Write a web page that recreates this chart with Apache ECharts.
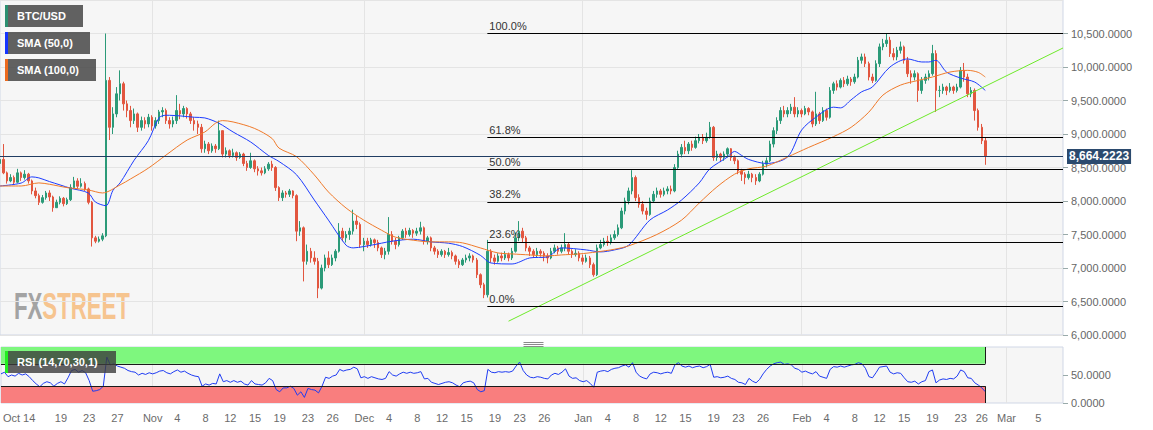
<!DOCTYPE html>
<html><head><meta charset="utf-8">
<script src="https://cdn.jsdelivr.net/npm/echarts@6/dist/echarts.min.js"></script>
<style>html,body{margin:0;padding:0;background:#fff}#c{width:1153px;height:430px}</style>
</head><body><div id="c"></div>
<script>
// ---------- DATA (12h slots starting 2019-10-10 12:00 UTC) ----------
const START_MS = Date.UTC(2019, 9, 10, 12);
const STEP_MS = 12 * 3600 * 1000;
const SLOTS = 302;

const firstOpen = 8560;
const closes = [8620,8420,8300,8350,8280,8420,8350,8400,8300,8150,8080,7980,8050,8120,8060,7900,7980,8040,7960,8020,
8200,8300,8220,8260,8180,7980,7450,7400,7430,7480,9800,9100,9300,9600,9750,9450,9350,9200,9300,9100,
9200,9150,9250,9120,9200,9330,9350,9200,9150,9200,9350,9300,9380,9300,9200,9150,9100,8780,8850,8750,
8820,8780,9050,8700,8750,8680,8720,8650,8700,8560,8500,8600,8480,8450,8420,8480,8550,8500,8200,8050,
8120,8100,8150,8080,7550,7600,7100,7250,7150,7100,6700,7000,7150,7050,7150,7250,7550,7450,7500,7550,
7700,7650,7350,7400,7350,7420,7380,7300,7200,7250,7500,7400,7350,7450,7550,7500,7560,7520,7550,7600,
7400,7450,7300,7250,7200,7250,7200,7230,7180,7100,7050,7120,7150,7180,7120,6900,6750,6600,7250,7150,
7100,7180,7150,7200,7150,7250,7450,7550,7450,7300,7250,7200,7250,7220,7180,7150,7250,7300,7250,7300,
7350,7250,7200,7220,7150,7100,7150,7050,6900,7300,7350,7400,7380,7450,7500,7600,7850,8000,8150,8350,
8050,7950,7850,7800,8000,8100,8150,8100,8150,8180,8150,8500,8700,8800,8750,8850,8800,8900,8950,8900,
8950,9100,8650,8700,8650,8700,8780,8650,8600,8450,8400,8350,8400,8350,8300,8400,8550,8600,8850,9050,
9200,9350,9300,9350,9400,9300,9350,9300,9380,9330,9150,9300,9200,9350,9250,9650,9750,9700,9800,9750,
9820,9780,9850,10100,10150,10050,9850,9800,10050,10300,10350,10400,10200,10150,10250,10300,10100,9900,9850,9900,
9650,9800,9850,9900,10200,9650,9650,9700,9650,9700,9650,9700,9950,9850,9600,9650,9350,9100,8900,8664.2223];
const lows = [8530,8400,8260,8280,8240,8270,8300,8320,8260,8100,8040,7940,7960,8020,8000,7840,7900,7950,7920,7940,
8000,8180,8180,8200,8150,7950,7320,7370,7380,7400,7460,8910,9000,9250,9500,9350,9250,9100,9150,9030,
9050,9080,9100,9050,9080,9150,9250,9150,9080,9100,9150,9220,9250,9230,9150,9050,9000,8720,8720,8700,
8720,8720,8760,8650,8650,8640,8650,8600,8630,8520,8450,8480,8430,8380,8380,8400,8450,8450,8150,8000,
8000,8050,8060,8040,7400,7480,6800,7050,7080,7050,6550,6680,6950,7000,7030,7100,7230,7400,7380,7420,
7500,7580,7300,7250,7300,7320,7300,7250,7150,7130,7200,7350,7280,7320,7420,7450,7470,7450,7480,7500,
7350,7350,7250,7200,7150,7170,7150,7170,7130,7050,7000,7030,7080,7100,7080,6850,6700,6550,6560,7080,
7050,7080,7100,7120,7100,7120,7230,7400,7380,7250,7180,7150,7150,7170,7100,7070,7130,7220,7200,7220,
7250,7200,7150,7170,7100,7050,7080,7000,6870,6880,7280,7320,7330,7350,7420,7470,7580,7800,7950,8100,
8000,7900,7800,7720,7780,7980,8050,8050,8070,8100,8100,8130,8480,8650,8700,8700,8750,8780,8860,8850,
8870,8930,8600,8600,8580,8600,8650,8600,8550,8400,8300,8250,8320,8280,8240,8280,8380,8500,8580,8800,
9000,9150,9250,9250,9300,9250,9250,9250,9280,9280,9100,9120,9150,9180,9200,9230,9600,9650,9680,9700,
9720,9720,9750,9830,10050,10000,9800,9760,9780,10000,10250,10300,10150,10100,10100,10200,10050,9850,9750,9800,
9480,9600,9750,9800,9870,9330,9550,9600,9580,9620,9600,9620,9680,9780,9550,9550,9200,9050,8850,8540];
const highs = [8650,8850,8440,8400,8380,8480,8440,8460,8420,8320,8200,8110,8090,8150,8160,8080,8020,8070,8060,8050,
8250,8360,8340,8340,8290,8200,8000,7480,7470,7520,10500,9850,9400,9700,9950,9780,9500,9420,9380,9320,
9260,9250,9300,9280,9250,9360,9400,9380,9250,9260,9580,9450,9420,9400,9330,9250,9200,9150,8900,8880,
8860,8850,9200,9050,8800,8770,8780,8740,8730,8720,8600,8720,8620,8520,8500,8520,8580,8600,8520,8220,
8160,8150,8180,8160,8100,7700,7620,7350,7300,7250,7150,7050,7200,7250,7200,7280,7670,7600,7550,7600,
7870,7780,7680,7450,7450,7450,7440,7420,7320,7300,7760,7550,7450,7480,7580,7600,7600,7580,7600,7690,
7620,7480,7470,7330,7280,7280,7270,7300,7260,7200,7130,7150,7200,7220,7200,7150,6920,6780,7420,7280,
7200,7220,7230,7250,7230,7300,7530,7700,7600,7480,7330,7280,7300,7280,7250,7220,7300,7350,7330,7350,
7520,7380,7280,7280,7250,7200,7200,7180,7080,7350,7420,7450,7480,7500,7560,7650,7900,8050,8200,8460,
8380,8100,8000,7900,8050,8150,8200,8180,8200,8220,8230,8550,8750,8850,8900,8880,8900,8960,9000,9000,
9020,9180,9120,8750,8720,8740,8800,8790,8680,8620,8480,8430,8450,8420,8400,8430,8600,8650,8900,9100,
9250,9400,9420,9400,9450,9550,9400,9380,9420,9400,9350,9630,9330,9400,9380,9700,9780,9800,9830,9850,
9870,9850,9900,10150,10200,10200,10080,9900,10100,10350,10420,10500,10450,10280,10300,10380,10320,10150,9950,9950,
9920,9850,9900,9950,10330,10250,9720,9750,9720,9760,9720,9750,10000,10060,9900,9700,9680,9380,9150,8950];

// SMA readings: [slot index, value]
const sma50 = [[0,8224],[6,8268],[9,8360],[11,8345],[14,8290],[17,8240],[20,8190],[25,8120],[27,7985],[30,7930],
[32,8160],[34,8270],[38,8610],[42,8900],[45,9240],[47,9280],[51,9270],[55,9250],[58,9240],[62,9160],[66,9030],
[71,8880],[76,8680],[79,8590],[84,8390],[89,8015],[93,7715],[98,7340],[100,7300],[103,7320],[108,7370],[111,7400],
[117,7430],[122,7390],[127,7370],[131,7320],[136,7190],[139,7075],[145,7060],[150,7150],[155,7165],[159,7300],
[166,7270],[170,7240],[174,7270],[178,7340],[184,7715],[189,7865],[193,8015],[198,8270],[201,8480],[206,8657],
[208,8740],[210,8680],[212,8620],[217,8560],[223,8657],[227,9060],[231,9250],[236,9400],[238,9390],[241,9510],
[244,9630],[247,9700],[252,10000],[257,10120],[261,10075],[263,10075],[265,10100],[268,9925],[272,9835],[276,9775],[279,9650]];
const sma100 = [[0,8224],[6,8224],[11,8270],[14,8250],[19,8200],[25,8165],[29,8120],[34,8240],[37,8330],[42,8490],
[47,8685],[53,8910],[58,9030],[61,9160],[63,9200],[66,9180],[72,9085],[77,8935],[79,8790],[84,8660],[89,8390],
[93,8135],[98,7895],[103,7715],[108,7565],[112,7460],[117,7415],[122,7390],[127,7390],[131,7375],[136,7300],
[141,7225],[145,7210],[150,7195],[155,7180],[159,7195],[164,7210],[169,7240],[174,7280],[178,7330],[186,7500],
[193,7715],[198,7970],[203,8210],[208,8400],[212,8480],[217,8520],[223,8657],[229,8800],[236,8960],[241,9100],
[246,9325],[250,9580],[255,9730],[260,9800],[264,9850],[269,9925],[274,9950],[277,9920],[279,9850]];

const rsi = [52,55,47,50,48,53,50,52,47,40,34,29,35,38,36,30,35,38,34,45,
58,60,55,58,54,40,21,22,24,30,82,68,70,66,64,62,58,56,55,50,
53,51,54,52,54,57,58,54,52,56,59,55,57,53,50,48,47,30,34,32,
35,34,52,38,40,37,40,37,39,34,32,40,34,33,32,36,44,40,24,20,
27,27,30,26,14,20,10,26,24,23,18,30,46,44,48,50,60,57,59,60,
64,61,45,47,44,47,45,43,42,44,56,50,48,52,55,53,55,53,54,56,
43,44,37,35,33,35,37,38,36,32,29,36,38,39,36,24,20,22,60,55,
54,56,55,56,55,57,66,73,58,50,46,45,47,46,44,43,50,53,51,55,
61,48,44,45,40,38,40,35,28,55,57,58,56,60,62,63,66,68,64,72,
55,48,45,43,52,55,54,52,54,55,53,68,72,66,64,66,63,65,66,63,
65,69,46,47,45,46,48,44,42,37,36,33,44,39,36,42,52,60,66,70,
72,73,69,70,68,62,60,55,57,54,52,56,48,46,44,60,65,64,66,64,
66,68,69,72,70,62,47,45,54,64,65,66,55,52,54,53,45,38,37,39,
34,38,40,56,59,36,41,43,42,44,43,48,59,56,45,44,36,32,27,20];

const lastPrice = 8664.2223;
const fibLevels = [10500, 8955, 8467, 7988, 7391, 6432];
const fibTexts = ['100.0%', '61.8%', '50.0%', '38.2%', '23.6%', '0.0%'];
const fibStart = '2019-12-18 12:00';
const trendPoints = [['2019-12-21 12:00', 6206], ['2020-03-09 00:00', 10284]];
const rsiBandEnd = '2020-02-27 00:00';
const monthStarts = ['2019-11-01 00:00','2019-12-01 00:00','2020-01-01 00:00','2020-02-01 00:00','2020-03-01 00:00'];
const tickLabels = [['2019-10-12 00:00','Oct'],['2019-10-14 12:00','14'],['2019-10-19 00:00','19'],['2019-10-23 00:00','23'],
['2019-10-27 00:00','27'],['2019-11-01 00:00','Nov'],['2019-11-04 12:00','4'],['2019-11-08 12:00','8'],['2019-11-12 00:00','12'],
['2019-11-15 12:00','15'],['2019-11-19 00:00','19'],['2019-11-23 00:00','23'],['2019-11-26 12:00','26'],['2019-12-01 00:00','Dec'],
['2019-12-04 12:00','4'],['2019-12-08 12:00','8'],['2019-12-12 00:00','12'],['2019-12-15 12:00','15'],['2019-12-19 12:00','19'],
['2019-12-23 00:00','23'],['2019-12-26 12:00','26'],['2020-01-01 00:00','Jan'],['2020-01-04 12:00','4'],['2020-01-08 12:00','8'],
['2020-01-12 00:00','12'],['2020-01-15 12:00','15'],['2020-01-19 12:00','19'],['2020-01-23 00:00','23'],['2020-01-26 12:00','26'],
['2020-02-01 00:00','Feb'],['2020-02-04 12:00','4'],['2020-02-08 12:00','8'],['2020-02-12 00:00','12'],['2020-02-15 12:00','15'],
['2020-02-19 12:00','19'],['2020-02-23 12:00','23'],['2020-02-26 12:00','26'],['2020-03-01 00:00','Mar'],['2020-03-05 12:00','5']];

// ---------- BUILD ----------
function fmtTime(ms) {
  const d = new Date(ms), p = n => String(n).padStart(2, '0');
  return d.getUTCFullYear() + '-' + p(d.getUTCMonth() + 1) + '-' + p(d.getUTCDate()) + ' ' + p(d.getUTCHours()) + ':' + p(d.getUTCMinutes());
}
const cats = [];
for (let k = 0; k < SLOTS; k++) cats.push(fmtTime(START_MS + k * STEP_MS));
const candles = closes.map((c, i) => {
  const o = i === 0 ? firstOpen : closes[i - 1];
  return [o, c, Math.min(lows[i], o, c), Math.max(highs[i], o, c)];
});
const labelMap = new Map(tickLabels);
const monthSet = new Set(monthStarts);
const num4 = v => v.toLocaleString('en-US', {minimumFractionDigits: 4, maximumFractionDigits: 4});

const FONT = '"Liberation Sans", Arial, sans-serif';
const gridLine = {color: '#e4e4e4', width: 1};
const xBase = {
  type: 'category', data: cats, boundaryGap: false,
  axisLine: {show: false}, axisTick: {show: false},
  splitLine: {show: true, interval: (i, v) => monthSet.has(v), lineStyle: gridLine}
};

const fibMarks = fibLevels.map((lv, j) => [
  {coord: [fibStart, lv], label: {show: true, formatter: fibTexts[j], position: 'insideStartTop', distance: [2, 2], color: '#333', fontSize: 11}},
  {coord: [cats[SLOTS - 1], lv]}
]);

function badge(top, width, text, marker) {
  return {type: 'group', left: 5, top: top, children: [
    {type: 'rect', z: 100, shape: {x: 0, y: 0, width: width, height: 22}, style: {fill: 'rgba(60,60,60,0.8)'}},
    {type: 'rect', z: 101, shape: {x: 0, y: 0, width: 3, height: 22}, style: {fill: marker}},
    {type: 'text', z: 102, x: 12, y: 11, style: {text: text, fill: '#fff', font: 'bold 11px ' + FONT, verticalAlign: 'middle'}}]};
}

const option = {
  animation: false,
  textStyle: {fontFamily: FONT},
  grid: [
    {left: 0, top: 0, width: 1063, height: 335, show: true, backgroundColor: '#f6f6f6', borderColor: '#d0d7e6', borderWidth: 1},
    {left: 0, top: 347, width: 1063, height: 56, show: true, backgroundColor: '#f6f6f6', borderColor: '#d0d7e6', borderWidth: 1}
  ],
  xAxis: [
    Object.assign({gridIndex: 0, axisLabel: {show: false}}, xBase),
    Object.assign({gridIndex: 1, axisLabel: {show: true, interval: (i, v) => labelMap.has(v), formatter: v => labelMap.get(v) || '', color: '#6b6b6b', fontSize: 11, margin: 9, fontFamily: FONT}}, xBase)
  ],
  yAxis: [
    {gridIndex: 0, type: 'value', position: 'right', min: 6000, max: 11000, interval: 500,
     axisLine: {show: false}, axisTick: {show: true, length: 5, lineStyle: {color: '#9aa'}},
     axisLabel: {showMaxLabel: false, formatter: num4, color: '#666', fontSize: 11, margin: 8, fontFamily: FONT},
     splitLine: {lineStyle: gridLine}},
    {gridIndex: 1, type: 'value', position: 'right', min: 0, max: 100, interval: 50,
     axisLine: {show: false}, axisTick: {show: true, length: 5, lineStyle: {color: '#9aa'}},
     axisLabel: {showMaxLabel: false, formatter: num4, color: '#666', fontSize: 11, margin: 8, fontFamily: FONT},
     splitLine: {show: false}}
  ],
  series: [
    {type: 'candlestick', name: 'BTC/USD', xAxisIndex: 0, yAxisIndex: 0, data: candles, barWidth: 2, z: 2,
     itemStyle: {color: '#2b9a78', color0: '#e2563f', borderColor: '#2b9a78', borderColor0: '#e2563f', borderWidth: 1}},
    {type: 'line', name: 'SMA (50,0)', xAxisIndex: 0, yAxisIndex: 0, data: sma50.map(([k, v]) => [cats[k], v]),
     showSymbol: false, smooth: 0.3, lineStyle: {color: '#1d3cff', width: 1}, itemStyle: {color: '#1d3cff'}, z: 3},
    {type: 'line', name: 'SMA (100,0)', xAxisIndex: 0, yAxisIndex: 0, data: sma100.map(([k, v]) => [cats[k], v]),
     showSymbol: false, smooth: 0.3, lineStyle: {color: '#f07a2a', width: 1}, itemStyle: {color: '#f07a2a'}, z: 3},
    {type: 'line', name: 'trend', xAxisIndex: 0, yAxisIndex: 0, data: trendPoints,
     showSymbol: false, lineStyle: {color: '#6eea2a', width: 1}, z: 4,
     markLine: {symbol: 'none', silent: true, animation: false, lineStyle: {color: '#000', width: 1, type: 'solid'},
       data: fibMarks.concat([{yAxis: lastPrice, lineStyle: {color: '#203d63', width: 1},
         label: {show: true, position: 'end', distance: 4, formatter: num4(lastPrice), color: '#fff', backgroundColor: '#2b4a6e',
                 fontWeight: 'bold', fontSize: 12, padding: [2, 2, 1, 2], fontFamily: FONT}}])}},
    {type: 'line', name: 'RSI', xAxisIndex: 1, yAxisIndex: 1, data: rsi, showSymbol: false,
     lineStyle: {color: '#1f3cf2', width: 1}, itemStyle: {color: '#1f3cf2'}, z: 4,
     markArea: {silent: true, data: [
       [{coord: [cats[0], 70], itemStyle: {color: '#7ef77e', opacity: 1}}, {coord: [rsiBandEnd, 100]}],
       [{coord: [cats[0], 0], itemStyle: {color: '#f97e7e', opacity: 1}}, {coord: [rsiBandEnd, 30]}]
     ]},
     markLine: {symbol: 'none', silent: true, label: {show: false}, lineStyle: {color: '#1a1a1a', width: 1, type: 'solid'}, data: [
       [{coord: [cats[0], 70]}, {coord: [rsiBandEnd, 70]}],
       [{coord: [cats[0], 30]}, {coord: [rsiBandEnd, 30]}],
       [{coord: [rsiBandEnd, 70]}, {coord: [rsiBandEnd, 100]}],
       [{coord: [rsiBandEnd, 0]}, {coord: [rsiBandEnd, 30]}]
     ]}}
  ],
  graphic: [
    {type: 'text', left: 14, top: 287, z: 0, silent: true, scaleX: 0.6,
     style: {text: '{a|FX}{b|STREET}', rich: {
       a: {fill: '#a3a3a3', fontSize: 37, fontWeight: 'bold', fontFamily: FONT},
       b: {fill: '#f6c48f', fontSize: 37, fontWeight: 'bold', fontFamily: FONT}}}},
    badge(5, 78, 'BTC/USD', '#2b8f70'),
    badge(32, 85, 'SMA (50,0)', '#1434ff'),
    badge(59, 91, 'SMA (100,0)', '#ec6a1e'),
    badge(351, 111, 'RSI (14,70,30,1)', '#22ee22'),
    {type: 'group', left: 521, top: 340, children: [
      {type: 'line', z: 100, shape: {x1: 0, y1: 0.5, x2: 20, y2: 0.5}, style: {stroke: '#8a8a8a', lineWidth: 1}},
      {type: 'line', z: 100, shape: {x1: 0, y1: 2.5, x2: 20, y2: 2.5}, style: {stroke: '#8a8a8a', lineWidth: 1}},
      {type: 'line', z: 100, shape: {x1: 0, y1: 4.5, x2: 20, y2: 4.5}, style: {stroke: '#8a8a8a', lineWidth: 1}}]}
  ]
};
const chart = echarts.init(document.getElementById('c'), null, {renderer: 'svg'});
chart.setOption(option);
</script>
</body></html>
